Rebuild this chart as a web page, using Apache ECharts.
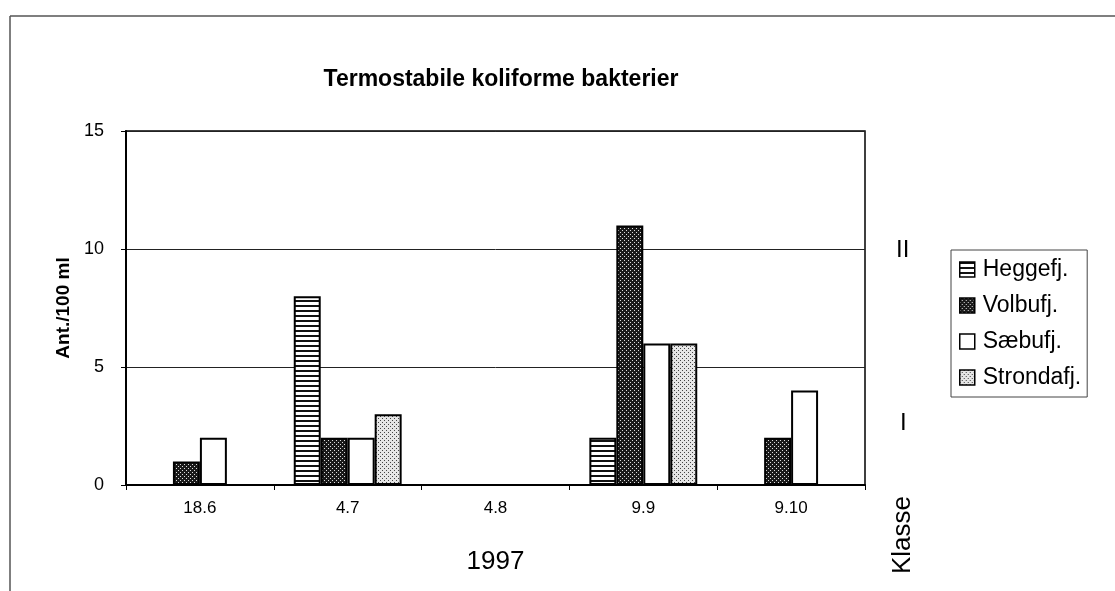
<!DOCTYPE html>
<html>
<head>
<meta charset="utf-8">
<script src="https://cdn.jsdelivr.net/npm/echarts@6/dist/echarts.min.js"></script>
<style>
html,body{margin:0;padding:0;background:#fff;}
#chart{width:1115px;height:591px;}
</style>
</head>
<body>
<div id="chart"></div>
<script>
const categories = ['18.6', '4.7', '4.8', '9.9', '9.10'];
const seriesNames = ['Heggefj.', 'Volbufj.', 'Sæbufj.', 'Strondafj.'];
const heggefj = [0, 8, 0, 2, 0];
const volbufj = [1, 2, 0, 11, 2];
const saebufj = [2, 2, 0, 6, 4];
const strondafj = [0, 3, 0, 6, 0];
const yTicks = [0, 5, 10, 15];

function makePattern(kind) {
  const c = document.createElement('canvas');
  const ctx = c.getContext('2d');
  if (kind === 'lines') {
    c.width = 5; c.height = 5;
    ctx.fillStyle = '#fff'; ctx.fillRect(0, 0, 5, 5);
    ctx.fillStyle = '#111'; ctx.fillRect(0, 0, 5, 2);
  } else if (kind === 'dark') {
    c.width = 4; c.height = 4;
    ctx.fillStyle = '#1a1a1a'; ctx.fillRect(0, 0, 4, 4);
    ctx.fillStyle = '#ddd';
    ctx.fillRect(0, 0, 1, 1); ctx.fillRect(2, 2, 1, 1);
  } else if (kind === 'light') {
    c.width = 4; c.height = 4;
    ctx.fillStyle = '#e6e6e6'; ctx.fillRect(0, 0, 4, 4);
    ctx.fillStyle = '#444';
    ctx.fillRect(0, 0, 1, 1); ctx.fillRect(2, 2, 1, 1);
  } else {
    c.width = 4; c.height = 4;
    ctx.fillStyle = '#fff'; ctx.fillRect(0, 0, 4, 4);
  }
  return { image: c, repeat: 'repeat' };
}

const fills = [makePattern('lines'), makePattern('dark'), makePattern('white'), makePattern('light')];
const dataSets = [heggefj, volbufj, saebufj, strondafj];
const font = '"Liberation Sans", Arial, sans-serif';

const chart = echarts.init(document.getElementById('chart'), null, { renderer: 'canvas' });
chart.setOption({
  backgroundColor: '#fff',
  animation: false,
  title: {
    text: 'Termostabile koliforme bakterier',
    left: 496, top: 63, textAlign: 'center',
    textStyle: { fontFamily: font, fontWeight: 'bold', fontSize: 23, color: '#000' }
  },
  legend: {
    orient: 'vertical',
    left: 951, top: 250,
    padding: [8, 6, 8, 8],
    itemGap: 13,
    itemWidth: 15, itemHeight: 15,
    borderColor: '#444', borderWidth: 1,
    icon: 'rect',
    itemStyle: { borderColor: '#000', borderWidth: 1.5 },
    textStyle: { fontFamily: font, fontSize: 23, color: '#000', padding: [0, 0, 0, 3] },
    data: seriesNames
  },
  grid: { left: 126, right: 250, top: 131, bottom: 106, show: true, borderColor: '#000', borderWidth: 1.5 },
  xAxis: {
    type: 'category',
    data: categories,
    name: '1997',
    nameLocation: 'middle',
    nameGap: 64,
    nameTextStyle: { fontFamily: font, fontSize: 26, color: '#000' },
    axisLine: { lineStyle: { color: '#000', width: 2 } },
    axisTick: { show: true, length: 5, lineStyle: { color: '#000' } },
    axisLabel: { fontFamily: font, fontSize: 17, color: '#000', margin: 15 },
    splitLine: { show: false }
  },
  yAxis: {
    type: 'value',
    min: yTicks[0], max: yTicks[yTicks.length - 1], interval: 5,
    name: 'Ant./100 ml',
    nameLocation: 'middle',
    nameGap: 49,
    nameTextStyle: { fontFamily: font, fontSize: 19, fontWeight: 'bold', color: '#000' },
    axisLine: { show: true, lineStyle: { color: '#000', width: 2 } },
    axisTick: { show: true, length: 5, lineStyle: { color: '#000' } },
    axisLabel: { fontFamily: font, fontSize: 18, color: '#000', margin: 22 },
    splitLine: { show: true, lineStyle: { color: '#222', width: 1 } }
  },
  series: seriesNames.map((n, i) => ({
    name: n,
    type: 'bar',
    data: dataSets[i],
    barGap: '0%',
    barCategoryGap: '27%',
    itemStyle: { color: fills[i], borderColor: '#000', borderWidth: 2 }
  })),
  graphic: [
    { type: 'line', shape: { x1: 10, y1: 16, x2: 1115, y2: 16 }, style: { stroke: '#555', lineWidth: 1.5 } },
    { type: 'line', shape: { x1: 10, y1: 16, x2: 10, y2: 591 }, style: { stroke: '#555', lineWidth: 1.5 } },
    { type: 'text', left: 896, top: 238, style: { text: 'II', font: '24px ' + font, fill: '#000' } },
    { type: 'text', left: 900, top: 411, style: { text: 'I', font: '24px ' + font, fill: '#000' } },
    { type: 'text', x: 916, y: 535, rotation: Math.PI / 2,
      style: { text: 'Klasse', font: '26px ' + font, fill: '#000', align: 'center', verticalAlign: 'bottom' } }
  ]
});
</script>
</body>
</html>
